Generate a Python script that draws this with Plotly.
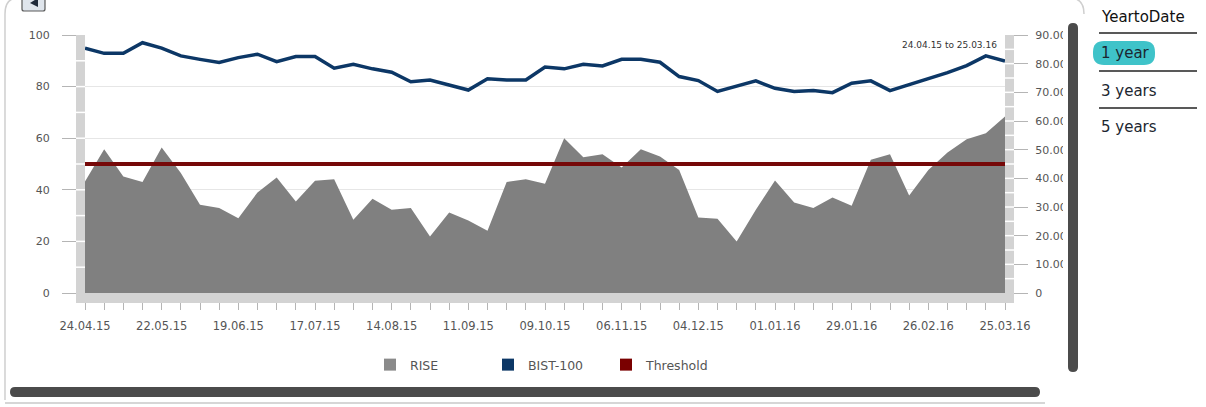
import pandas as pd
import plotly.graph_objects as go

# Weekly observations, 24.04.15 .. 25.03.16
dates = pd.date_range("2015-04-24", periods=49, freq="7D")

rise = [43.2, 55.7, 45.2, 43.0, 56.4, 46.5, 34.2, 32.9, 29.0, 39.0,
        44.8, 35.5, 43.5, 44.1, 28.4, 36.5, 32.3, 32.9, 21.9, 31.2,
        28.1, 24.1, 43.0, 44.1, 42.3, 60.0, 52.6, 53.8, 48.6, 55.7,
        52.9, 47.7, 29.3, 28.8, 20.0, 32.3, 43.6, 35.1, 32.9, 37.0,
        33.8, 51.6, 53.8, 37.8, 47.7, 54.5, 59.6, 61.9, 68.4]

bist100 = [85.4, 83.6, 83.6, 87.3, 85.4, 82.7, 81.5, 80.4, 82.1, 83.3,
           80.7, 82.5, 82.5, 78.4, 79.8, 78.2, 77.0, 73.7, 74.3, 72.6,
           70.8, 74.7, 74.3, 74.3, 78.8, 78.2, 79.8, 79.2, 81.5, 81.5,
           80.5, 75.5, 74.1, 70.3, 72.2, 74.0, 71.4, 70.3, 70.6, 69.9,
           73.2, 74.0, 70.6, 72.6, 74.6, 76.9, 79.3, 82.7, 80.9]

THRESHOLD = 50

left_ticks = [0, 20, 40, 60, 80, 100]
right_ticks = [0, 10, 20, 30, 40, 50, 60, 70, 80, 90]
right_labels = ["0"] + [f"{v:.2f}" for v in right_ticks[1:]]

period_options = ["1 year", "3 years", "5 years"]

# ---- page geometry (pixels) ----
W, H = 1206, 407
L, R, T, B = 85, 1005, 35, 293      # plot area edges
PW, PH = R - L, B - T


def px(x):
    return (x - L) / PW


def py(y):
    return (B - y) / PH


def rrect(x0, y0, x1, y1, r):
    """Rounded rectangle path given in pixels, emitted in paper units."""
    pts = [
        ("M", x0 + r, y0), ("L", x1 - r, y0), ("Q", x1, y0, x1, y0 + r),
        ("L", x1, y1 - r), ("Q", x1, y1, x1 - r, y1), ("L", x0 + r, y1),
        ("Q", x0, y1, x0, y1 - r), ("L", x0, y0 + r), ("Q", x0, y0, x0 + r, y0),
    ]
    out = []
    for p in pts:
        cmd, coords = p[0], p[1:]
        conv = []
        for i in range(0, len(coords), 2):
            conv.append(f"{px(coords[i]):.5f},{py(coords[i + 1]):.5f}")
        out.append(cmd + " ".join(conv))
    return " ".join(out) + " Z"


FONT = "DejaVu Sans"
AXIS_GRAY = "#555555"
STRIP = "#d3d3d3"

fig = go.Figure()

fig.add_trace(go.Scatter(
    x=dates, y=rise, mode="lines", fill="tozeroy",
    line=dict(color="#808080", width=0), fillcolor="#808080",
    showlegend=False, hoverinfo="skip"))

fig.add_trace(go.Scatter(
    x=dates, y=[THRESHOLD] * len(dates), mode="lines",
    line=dict(color="#760808", width=4), showlegend=False, hoverinfo="skip"))

fig.add_trace(go.Scatter(
    x=dates, y=bist100, mode="lines", yaxis="y2",
    line=dict(color="#0c3766", width=3.5), showlegend=False, hoverinfo="skip"))

# legend swatches
for name, col in [("RISE", "#8a8a8a"), ("BIST-100", "#0c3766"), ("Threshold", "#7a0000")]:
    fig.add_trace(go.Scatter(
        x=[None], y=[None], mode="markers", name=name,
        marker=dict(symbol="square", size=12, color=col)))

shapes = []

# axis strips beside the plot
shapes.append(dict(type="rect", xref="paper", yref="paper",
                   x0=px(76), x1=px(L), y0=py(B), y1=py(T),
                   fillcolor=STRIP, line_width=0, layer="above"))
shapes.append(dict(type="rect", xref="paper", yref="paper",
                   x0=px(R), x1=px(1014), y0=py(B), y1=py(T),
                   fillcolor=STRIP, line_width=0, layer="above"))
shapes.append(dict(type="rect", xref="paper", yref="paper",
                   x0=px(76), x1=px(1014), y0=py(303), y1=py(B),
                   fillcolor=STRIP, line_width=0, layer="above"))
for v in range(10, 100, 10):
    shapes.append(dict(type="line", xref="paper", yref="y",
                       x0=px(76), x1=px(L), y0=v, y1=v,
                       line=dict(color="white", width=1.5), layer="above"))
for v in range(5, 90, 5):
    shapes.append(dict(type="line", xref="paper", yref="y2",
                       x0=px(R), x1=px(1014), y0=v, y1=v,
                       line=dict(color="white", width=1.5), layer="above"))

# clip the right-hand labels and the scroll bars
shapes.append(dict(type="rect", xref="paper", yref="paper",
                   x0=px(1063), x1=px(1090), y0=py(400), y1=py(20),
                   fillcolor="white", line_width=0, layer="above"))
shapes.append(dict(type="path", xref="paper", yref="paper",
                   path=rrect(1068, 23, 1078, 372, 5),
                   fillcolor="#4b4b4b", line_width=0, layer="above"))
shapes.append(dict(type="path", xref="paper", yref="paper",
                   path=rrect(10, 387, 1040, 397, 5),
                   fillcolor="#4b4b4b", line_width=0, layer="above"))
shapes.append(dict(type="line", xref="paper", yref="paper",
                   x0=px(5), x1=px(1045), y0=py(403), y1=py(403),
                   line=dict(color="#c8c8c8", width=1.5), layer="above"))
# container outline (left edge with rounded top corner)
shapes.append(dict(type="path", xref="paper", yref="paper",
                   path=(f"M{px(5):.5f},{py(400):.5f} L{px(5):.5f},{py(14):.5f} "
                         f"Q{px(5):.5f},{py(-2):.5f} {px(18):.5f},{py(-2):.5f}"),
                   line=dict(color="#cfcfcf", width=1.5), layer="above"))
shapes.append(dict(type="path", xref="paper", yref="paper",
                   path=(f"M{px(1070):.5f},{py(-2):.5f} "
                         f"Q{px(1084):.5f},{py(-2):.5f} {px(1084):.5f},{py(14):.5f}"),
                   line=dict(color="#cfcfcf", width=1.5), layer="above"))
# small collapse button top left
shapes.append(dict(type="path", xref="paper", yref="paper",
                   path=rrect(22, -4, 45, 11, 2),
                   fillcolor="#dfe5ec", line=dict(color="#5a5a5a", width=1.2),
                   layer="above"))
shapes.append(dict(type="path", xref="paper", yref="paper",
                   path=(f"M{px(30):.5f},{py(3):.5f} L{px(38):.5f},{py(-2):.5f} "
                         f"L{px(38):.5f},{py(7):.5f} Z"),
                   fillcolor="#1f2a3a", line_width=0, layer="above"))

# period selector on the right
for yy in [33, 71, 108]:
    shapes.append(dict(type="line", xref="paper", yref="paper",
                       x0=px(1099), x1=px(1197), y0=py(yy), y1=py(yy),
                       line=dict(color="#222222", width=1.5), layer="above"))
shapes.append(dict(type="path", xref="paper", yref="paper",
                   path=rrect(1093, 41, 1155, 65, 11),
                   fillcolor="#3fc3c9", line_width=0, layer="above"))

annotations = [
    dict(text="24.04.15 to 25.03.16", xref="paper", yref="paper",
         x=px(999), y=py(45), xanchor="right", yanchor="middle", showarrow=False,
         font=dict(family=FONT, size=9, color="#333333")),
    dict(text="YeartoDate", xref="paper", yref="paper",
         x=px(1099), y=py(17), xanchor="left", yanchor="middle", showarrow=False,
         font=dict(family=FONT, size=15, color="#111111")),
]
for label, yy in zip(period_options, [53, 91, 127]):
    annotations.append(dict(text=label, xref="paper", yref="paper",
                            x=px(1099), y=py(yy), xanchor="left", yanchor="middle",
                            showarrow=False,
                            font=dict(family=FONT, size=15, color="#1c2630")))

DAY = 86400000
fig.update_layout(
    width=W, height=H,
    margin=dict(l=L, r=W - R, t=T, b=H - B, pad=0),
    paper_bgcolor="white", plot_bgcolor="white",
    font=dict(family=FONT, size=11, color=AXIS_GRAY),
    xaxis=dict(
        type="date", range=[dates[0], dates[-1]],
        tick0=dates[0], dtick=28 * DAY, tickformat="%d.%m.%y",
        ticks="outside", ticklen=16, tickcolor="#b5b5b5", tickwidth=1,
        ticklabelstandoff=6,
        minor=dict(dtick=7 * DAY, tick0=dates[0], ticks="outside",
                   ticklen=16, tickcolor="#b5b5b5", showgrid=False),
        showgrid=False, zeroline=False, showline=False,
        tickfont=dict(family=FONT, size=11.5, color=AXIS_GRAY)),
    yaxis=dict(
        range=[0, 100], tickvals=left_ticks,
        ticks="outside", ticklen=22, tickcolor="#b5b5b5",
        ticklabelstandoff=10,
        showgrid=True, gridcolor="#e6e6e6", gridwidth=1,
        zeroline=False, showline=False,
        tickfont=dict(family=FONT, size=11, color=AXIS_GRAY)),
    yaxis2=dict(
        range=[0, 90], overlaying="y", side="right",
        tickvals=right_ticks, ticktext=right_labels,
        ticks="outside", ticklen=22, tickcolor="#b5b5b5",
        ticklabelstandoff=5,
        showgrid=False, zeroline=False, showline=False,
        tickfont=dict(family=FONT, size=11, color=AXIS_GRAY)),
    legend=dict(
        orientation="h", x=px(370), y=py(365), xanchor="left", yanchor="middle",
        entrywidth=73, entrywidthmode="pixels",
        font=dict(family=FONT, size=12.5, color=AXIS_GRAY),
        bgcolor="rgba(0,0,0,0)"),
    shapes=shapes,
    annotations=annotations,
)

fig.write_html("out.html")
